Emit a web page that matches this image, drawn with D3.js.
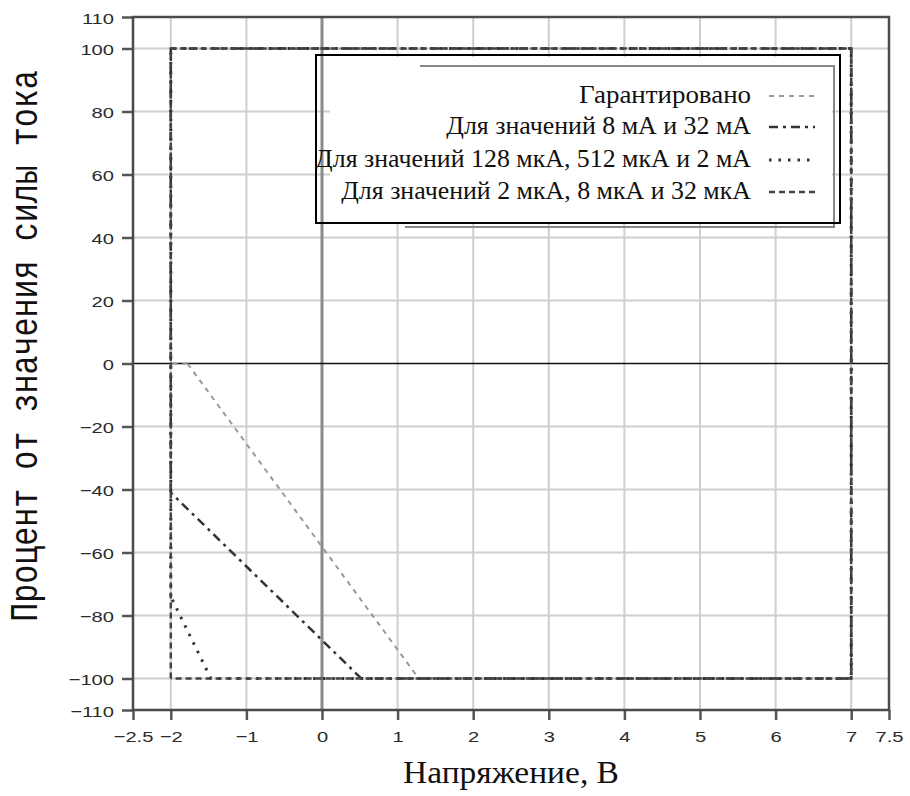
<!DOCTYPE html>
<html>
<head>
<meta charset="utf-8">
<script src="https://cdn.jsdelivr.net/npm/d3@7"></script>
<style>
  body { margin: 0; background: #fff; }
</style>
</head>
<body>
<svg id="chart" width="910" height="796"></svg>
<script>
// axis ticks and grid
const xTicks = [-2.5, -2, -1, 0, 1, 2, 3, 4, 5, 6, 7, 7.5];
const yTicks = [110, 100, 80, 60, 40, 20, 0, -20, -40, -60, -80, -100, -110];
const xGrid = [-2, -1, 1, 2, 3, 4, 5, 6, 7];
const yGrid = [100, 80, 60, 40, 20, -20, -40, -60, -80, -100];

// series (voltage, percent of current)
const seriesNames = [
  "Гарантировано",
  "Для значений 8 мА и 32 мА",
  "Для значений 128 мкА, 512 мкА и 2 мА",
  "Для значений 2 мкА, 8 мкА и 32 мкА"
];
const guaranteedV   = [-1.78, -2, -2, 7, 7, 1.28, -1.78];
const guaranteedPct = [0, 0, 100, 100, -100, -100, 0];
const mA8V   = [-2, -2, 7, 7, 0.52, -2];
const mA8Pct = [-41, 100, 100, -100, -100, -41];
const uA128V   = [-2, -2, 7, 7, -1.47, -2];
const uA128Pct = [-74, 100, 100, -100, -100, -74];
const uA2V   = [-2, -2, 7, 7, -2];
const uA2Pct = [-100, 100, 100, -100, -100];

const svg = d3.select("#chart");

const x = d3.scaleLinear().domain([-2.5, 7.5]).range([133, 889]);
const y = d3.scaleLinear().domain([-110, 110]).range([710, 17]);

const styles = [
  { color: "#9a9a9a", width: 2,   dash: "5,5" },
  { color: "#333",    width: 2.5, dash: "9,5,3,5" },
  { color: "#333",    width: 3,   dash: "2.5,7" },
  { color: "#444",    width: 2.5, dash: "6,4" }
];

const series = [
  d3.zip(guaranteedV, guaranteedPct),
  d3.zip(mA8V, mA8Pct),
  d3.zip(uA128V, uA128Pct),
  d3.zip(uA2V, uA2Pct)
];

// grid
svg.append("g")
  .selectAll("line")
  .data(xGrid)
  .enter().append("line")
    .attr("x1", d => x(d)).attr("x2", d => x(d))
    .attr("y1", y(110)).attr("y2", y(-110))
    .attr("stroke", "#cfcfcf")
    .attr("stroke-width", 2);

svg.append("g")
  .selectAll("line")
  .data(yGrid)
  .enter().append("line")
    .attr("x1", x(-2.5)).attr("x2", x(7.5))
    .attr("y1", d => y(d)).attr("y2", d => y(d))
    .attr("stroke", "#cfcfcf")
    .attr("stroke-width", 2);

// zero lines
svg.append("line")
  .attr("x1", x(0)).attr("x2", x(0))
  .attr("y1", y(110)).attr("y2", y(-110))
  .attr("stroke", "#8a8a8a")
  .attr("stroke-width", 3);

svg.append("line")
  .attr("x1", x(-2.5)).attr("x2", x(7.5))
  .attr("y1", y(0)).attr("y2", y(0))
  .attr("stroke", "#111")
  .attr("stroke-width", 1.5);

// axes
const xAxis = d3.axisBottom(x)
  .tickValues(xTicks)
  .tickSize(10)
  .tickPadding(5)
  .tickFormat(d3.format("~g"));
const yAxis = d3.axisLeft(y)
  .tickValues(yTicks)
  .tickSize(11)
  .tickPadding(5)
  .tickFormat(d3.format("~g"));

const gx = svg.append("g")
  .attr("transform", `translate(0,${y(-110)})`)
  .call(xAxis);
const gy = svg.append("g")
  .attr("transform", `translate(${x(-2.5)},0)`)
  .call(yAxis);

[gx, gy].forEach(g => {
  g.attr("font-family", null).attr("font-size", null);
  g.select(".domain").remove();
  g.selectAll(".tick line").attr("stroke", "#555").attr("stroke-width", 2.5);
  g.selectAll(".tick text")
    .attr("fill", "#2a2a2a")
    .style("font-family", "Liberation Sans")
    .style("font-size", "15.5px");
});

gx.selectAll(".tick text")
  .attr("y", 0).attr("dy", 0)
  .attr("transform", "translate(0,32) scale(1.3,1)");
gy.selectAll(".tick text")
  .attr("x", 0).attr("dy", 0)
  .attr("transform", "translate(-19,6) scale(1.3,1)");

// data lines
const line = d3.line()
  .x(d => x(d[0]))
  .y(d => y(d[1]));

svg.append("g")
  .selectAll("path")
  .data(series)
  .enter().append("path")
    .attr("d", line)
    .attr("fill", "none")
    .attr("stroke", (d, i) => styles[i].color)
    .attr("stroke-width", (d, i) => styles[i].width)
    .attr("stroke-dasharray", (d, i) => styles[i].dash);

// frame
svg.append("rect")
  .attr("x", x(-2.5)).attr("y", y(110))
  .attr("width", x(7.5) - x(-2.5))
  .attr("height", y(-110) - y(110))
  .attr("fill", "none")
  .attr("stroke", "#4a4a4a")
  .attr("stroke-width", 2.5);

// legend
const legend = svg.append("g");

legend.append("rect")
  .attr("x", 330).attr("y", 57)
  .attr("width", 502).attr("height", 165)
  .attr("fill", "#fff");

legend.append("polyline")
  .attr("points", "420,66 834,66 834,227 405,227")
  .attr("fill", "none")
  .attr("stroke", "#888")
  .attr("stroke-width", 2);

legend.append("rect")
  .attr("x", 316).attr("y", 55)
  .attr("width", 524).attr("height", 168)
  .attr("fill", "none")
  .attr("stroke", "#000")
  .attr("stroke-width", 2);

const legendRows = [103, 134, 167, 199];
const legendWidths = [172, 305, 436, 410];

// stretch a text horizontally so it spans the wanted width
const fitWidth = (el, px, py, want) => {
  const w = el.getComputedTextLength();
  d3.select(el).attr("transform", `translate(${px},${py}) scale(${want / w},1)`);
};

legend.selectAll("text")
  .data(seriesNames)
  .enter().append("text")
    .attr("text-anchor", "end")
    .style("font-family", "Liberation Serif")
    .style("font-size", "25px")
    .attr("fill", "#111")
    .text(d => d)
    .each(function(d, i) { fitWidth(this, 751, legendRows[i], legendWidths[i]); });

legend.selectAll("line.sample")
  .data(styles)
  .enter().append("line")
    .attr("class", "sample")
    .attr("x1", 769).attr("x2", 815)
    .attr("y1", (d, i) => legendRows[i] - 7)
    .attr("y2", (d, i) => legendRows[i] - 7)
    .attr("stroke", d => d.color)
    .attr("stroke-width", d => d.width)
    .attr("stroke-dasharray", d => d.dash);

// axis titles
const xTitle = svg.append("text")
  .attr("text-anchor", "middle")
  .style("font-family", "Liberation Serif")
  .style("font-size", "31px")
  .attr("fill", "#111")
  .text("Напряжение, В");
fitWidth(xTitle.node(), 511, 783, 216);

const yTitle = svg.append("text")
  .attr("text-anchor", "middle")
  .style("font-family", "Liberation Mono")
  .style("font-size", "30px")
  .attr("fill", "#111")
  .text("Процент от значения силы тока");
const yw = yTitle.node().getComputedTextLength();
yTitle.attr("transform", `translate(37,346) scale(1.28,1) rotate(-90) scale(${552 / yw},1)`);
</script>
</body>
</html>
